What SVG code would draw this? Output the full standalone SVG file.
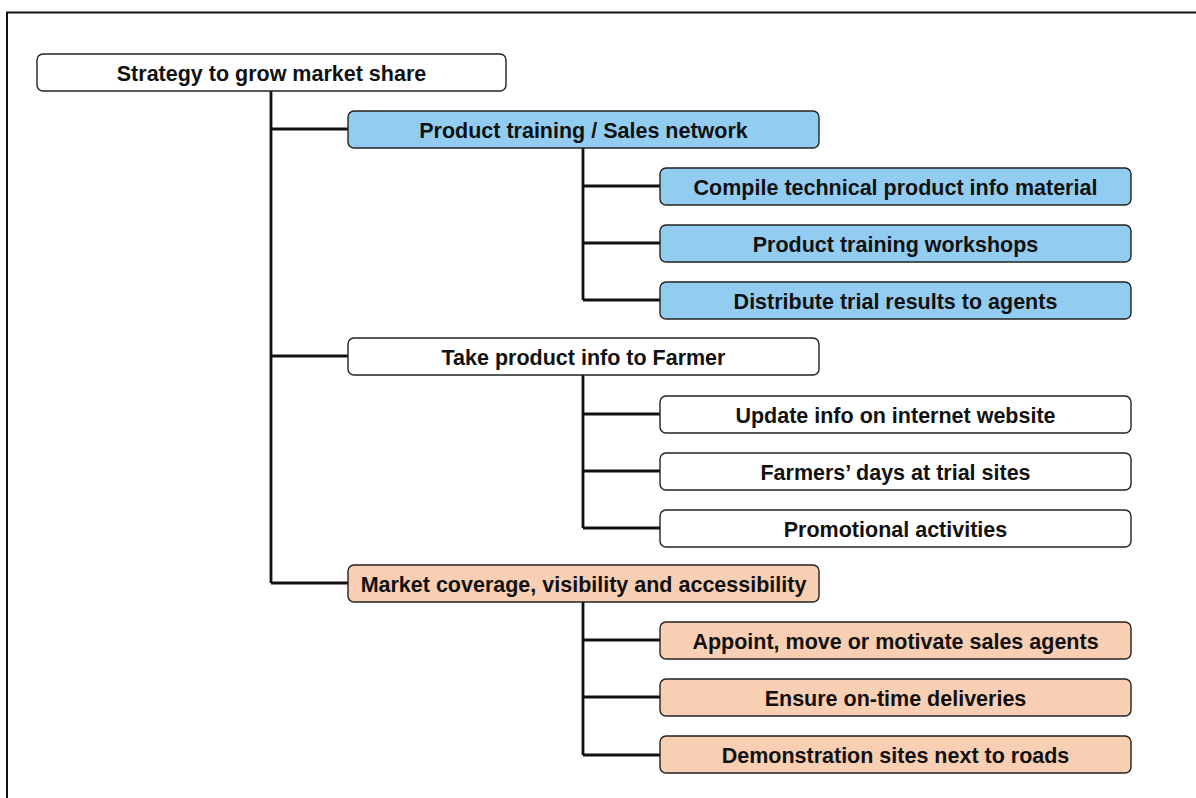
<svg xmlns="http://www.w3.org/2000/svg" width="1196" height="798" viewBox="0 0 1196 798">
<style>
.box{stroke:#222;stroke-width:1.4}
.w{fill:#ffffff}
.b{fill:#92cdf1}
.o{fill:#f8cfb3}
.t{font-family:"Liberation Sans",Arial,Helvetica,sans-serif;font-weight:bold;font-size:21.5px;fill:#111;text-anchor:middle}
.c{stroke:#111;stroke-width:2.8;fill:none}
</style>
<rect width="1196" height="798" fill="#ffffff"/>
<path d="M7,798 V12.5 H1196" fill="none" stroke="#111" stroke-width="2"/>
<g id="connectors">
<path class="c" d="M271,91 V583 M271,129 H348 M271,356 H348 M271,583 H348"/>
<path class="c" d="M583,148 V300 M583,186 H660 M583,243 H660 M583,300 H660"/>
<path class="c" d="M583,375 V528 M583,414 H660 M583,471 H660 M583,528 H660"/>
<path class="c" d="M583,602 V755 M583,640 H660 M583,697 H660 M583,755 H660"/>
</g>
<g id="root"><rect class="box w" x="37" y="54" width="469" height="37" rx="6"/><text class="t" x="271.5" y="80.5">Strategy to grow market share</text></g>
<g id="n1"><rect class="box b" x="348" y="111" width="471" height="37" rx="6"/><text class="t" x="583.5" y="137.5">Product training / Sales network</text></g>
<g id="n1a"><rect class="box b" x="660" y="168" width="471" height="37" rx="6"/><text class="t" x="895.5" y="194.5">Compile technical product info material</text></g>
<g id="n1b"><rect class="box b" x="660" y="225" width="471" height="37" rx="6"/><text class="t" x="895.5" y="251.5">Product training workshops</text></g>
<g id="n1c"><rect class="box b" x="660" y="282" width="471" height="37" rx="6"/><text class="t" x="895.5" y="308.5">Distribute trial results to agents</text></g>
<g id="n2"><rect class="box w" x="348" y="338" width="471" height="37" rx="6"/><text class="t" x="583.5" y="364.5">Take product info to Farmer</text></g>
<g id="n2a"><rect class="box w" x="660" y="396" width="471" height="37" rx="6"/><text class="t" x="895.5" y="422.5">Update info on internet website</text></g>
<g id="n2b"><rect class="box w" x="660" y="453" width="471" height="37" rx="6"/><text class="t" x="895.5" y="479.5">Farmers’ days at trial sites</text></g>
<g id="n2c"><rect class="box w" x="660" y="510" width="471" height="37" rx="6"/><text class="t" x="895.5" y="536.5">Promotional activities</text></g>
<g id="n3"><rect class="box o" x="348" y="565" width="471" height="37" rx="6"/><text class="t" x="583.5" y="591.5">Market coverage, visibility and accessibility</text></g>
<g id="n3a"><rect class="box o" x="660" y="622" width="471" height="37" rx="6"/><text class="t" x="895.5" y="648.5">Appoint, move or motivate sales agents</text></g>
<g id="n3b"><rect class="box o" x="660" y="679" width="471" height="37" rx="6"/><text class="t" x="895.5" y="705.5">Ensure on-time deliveries</text></g>
<g id="n3c"><rect class="box o" x="660" y="736" width="471" height="37" rx="6"/><text class="t" x="895.5" y="762.5">Demonstration sites next to roads</text></g>
</svg>
